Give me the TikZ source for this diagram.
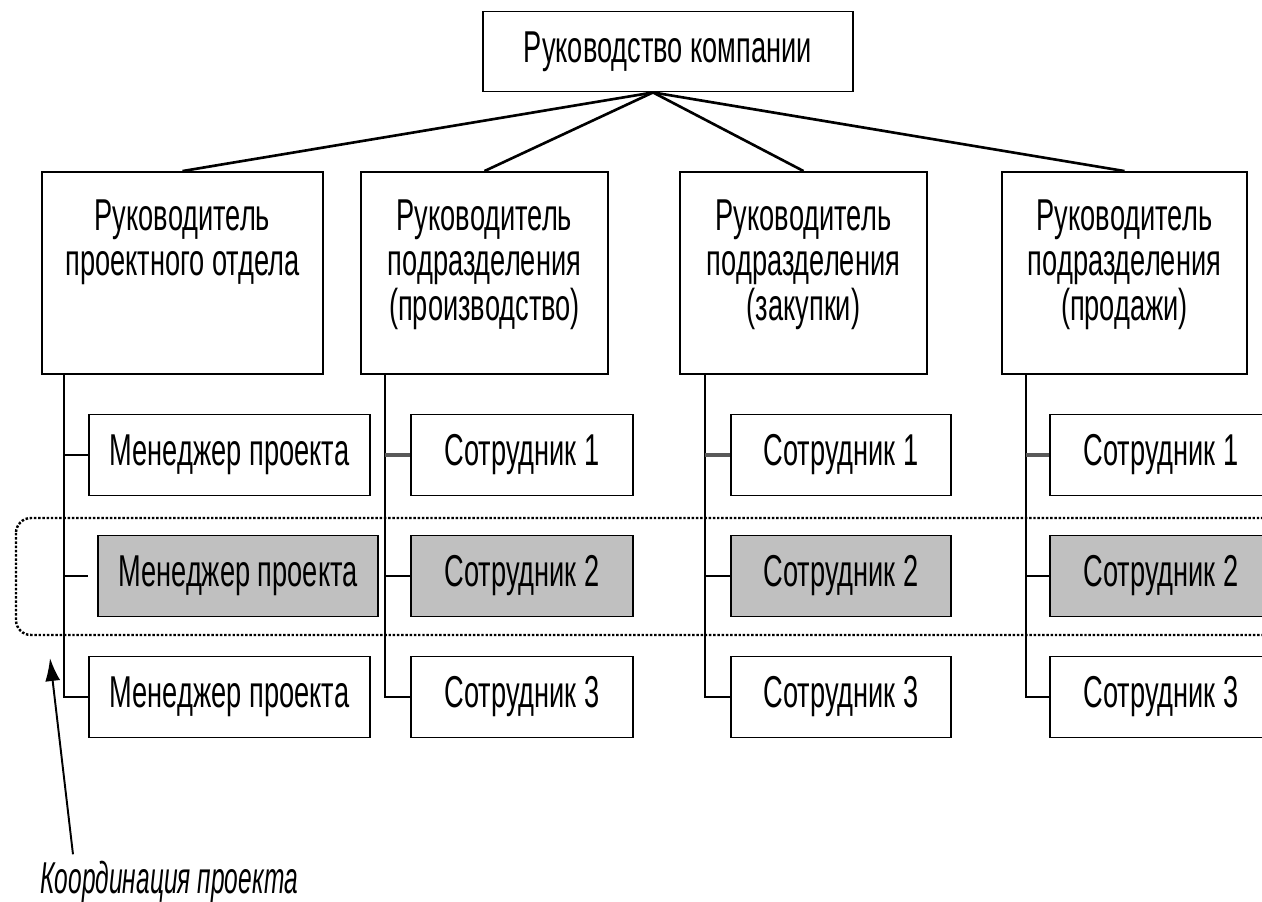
\documentclass[tikz,border=0pt]{standalone}
\usepackage{fontspec}
\setmainfont{Liberation Sans}[FakeStretch=0.61]
\newfontfamily\notefont{Liberation Sans}[FakeStretch=0.55]
\usetikzlibrary{calc,arrows.meta}
\definecolor{boxgray}{RGB}{192,192,192}

\begin{document}
\begin{tikzpicture}[x=0.02cm,y=-0.02cm,
        every node/.style={font=\fontsize{25.4}{25.6}\selectfont,inner sep=0pt},
        box/.style={draw,line width=1.1pt,fill=white},
        head/.style={box,align=center,minimum height=4.04cm},
        member/.style={box,minimum height=1.62cm},
        active/.style={member,fill=boxgray},
        link/.style={line width=1.1pt},
        firstlink/.style={line width=2.2pt,color=gray!70!black}]
            \useasboundingbox (0, 0) rectangle (1262, 902);

            % dotted frame round the project row
            \draw[line width=1.4pt,densely dotted,rounded corners=0.3cm] (16, 518) rectangle (1320, 635);

            \node[box,minimum width=7.4cm,minimum height=1.6cm] (ceo) at (668, 51.5) {Руководство компании};

            \node[head,minimum width=5.62cm] (proj) at (182.5, 273) {Руководитель\\проектного отдела\\~\\[-0.4cm]~};
            \node[head,minimum width=4.94cm] (prod) at (484.5, 273) {Руководитель\\подразделения\\(производство)\\[-0.4cm]~};
            \node[head,minimum width=4.94cm] (purch) at (803.5, 273) {Руководитель\\подразделения\\(закупки)\\[-0.4cm]~};
            \node[head,minimum width=4.9cm] (sales) at (1124.5, 273) {Руководитель\\подразделения\\(продажи)\\[-0.4cm]~};

            \coordinate (fork) at ($(ceo.south)+(-15,0)$);
            \draw[line width=1.5pt] (fork) -- (proj.north);
            \draw[line width=1.5pt] (fork) -- (prod.north);
            \draw[line width=1.5pt] (fork) -- (purch.north);
            \draw[line width=1.5pt] (fork) -- (sales.north);

            % project department
            \node[member,minimum width=5.62cm] (pm1) at (229.5, 455) {Менеджер проекта};
            \node[active,minimum width=5.6cm] (pm2) at (238, 576) {Менеджер проекта};
            \node[member,minimum width=5.62cm] (pm3) at (229.5, 697) {Менеджер проекта};

            % production
            \node[member,minimum width=4.44cm] (pr1) at (522, 455) {Сотрудник 1};
            \node[active,minimum width=4.44cm] (pr2) at (522, 576) {Сотрудник 2};
            \node[member,minimum width=4.44cm] (pr3) at (522, 697) {Сотрудник 3};

            % purchasing
            \node[member,minimum width=4.4cm] (pu1) at (841, 455) {Сотрудник 1};
            \node[active,minimum width=4.4cm] (pu2) at (841, 576) {Сотрудник 2};
            \node[member,minimum width=4.4cm] (pu3) at (841, 697) {Сотрудник 3};

            % sales
            \node[member,minimum width=4.44cm] (sa1) at (1161, 455) {Сотрудник 1};
            \node[active,minimum width=4.44cm] (sa2) at (1161, 576) {Сотрудник 2};
            \node[member,minimum width=4.44cm] (sa3) at (1161, 697) {Сотрудник 3};

            \coordinate (vproj) at ($(proj.south west)+(23,0)$);
            \coordinate (vprod) at ($(prod.south west)+(25,0)$);
            \coordinate (vpurch) at ($(purch.south west)+(26,0)$);
            \coordinate (vsales) at ($(sales.south west)+(25,0)$);

            \draw[link] (vproj) |- (pm3.west);
            \draw[link] (vproj |- pm1.west) -- (pm1.west);
            \draw[link] (vproj |- pm2.west) -- ++(24, 0);
            \draw[link] (vprod) |- (pr3.west);
            \draw[firstlink] (vprod |- pr1.west) -- (pr1.west);
            \draw[link] (vprod |- pr2.west) -- (pr2.west);
            \draw[link] (vpurch) |- (pu3.west);
            \draw[firstlink] (vpurch |- pu1.west) -- (pu1.west);
            \draw[link] (vpurch |- pu2.west) -- (pu2.west);
            \draw[link] (vsales) |- (sa3.west);
            \draw[firstlink] (vsales |- sa1.west) -- (sa1.west);
            \draw[link] (vsales |- sa2.west) -- (sa2.west);

            \node[anchor=base west] (coord) at (40, 893) {\notefont\itshape Координация проекта};
            \coordinate (frame) at (50, 658);
            \draw[line width=1.1pt,-{Latex[length=0.46cm,width=0.3cm]}] ($(coord.north west)+(33,-6)$) -- (frame);
        \end{tikzpicture}
\end{document}
